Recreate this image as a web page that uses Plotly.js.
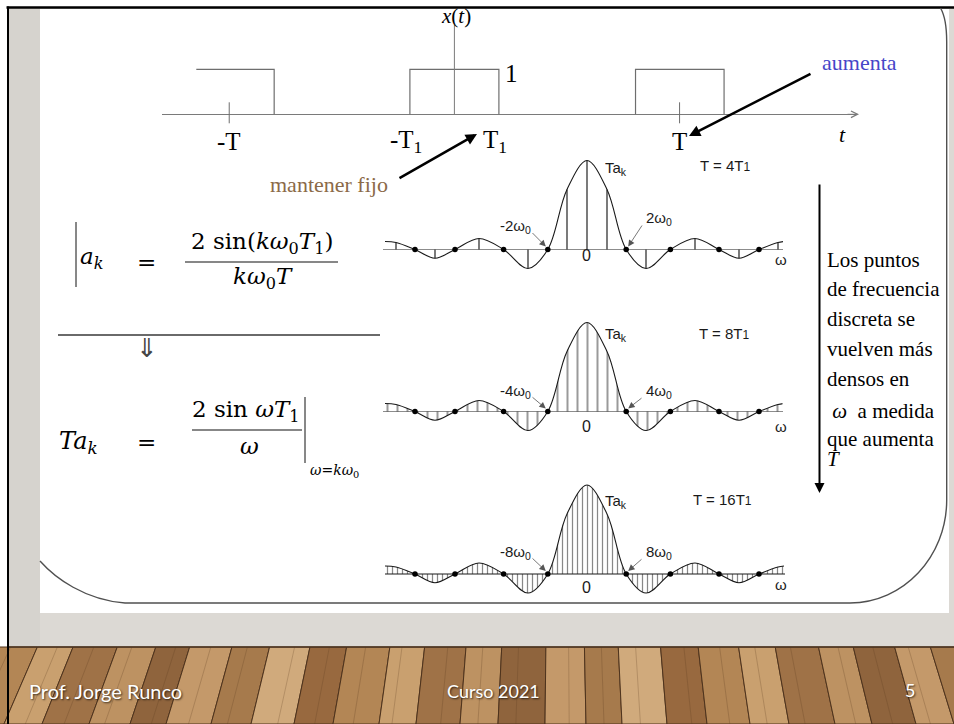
<!DOCTYPE html>
<html><head><meta charset="utf-8">
<script src="https://cdn.plot.ly/plotly-3.0.1.min.js"></script>
<style>html,body{margin:0;padding:0;background:#fff;overflow:hidden}#chart{width:954px;height:724px}</style>
</head><body><div id="chart"></div>
<script>
// ================= DATA =================
// periodic square wave x(t); t measured in units of T1
const pulseStart = [-5.8, -1.0, 4.07];
const pulseEnd = [-4.05, 1.0, 6.06];
const pulseRiseShown = [false, true, true];   // left pulse is cut by the slide
const pulseHeight = 1;
const periodT = 5.06;
const timeTicks = [-periodT, periodT];
const timeTickLabels = ['-T', 'T'];
const halfWidthTicks = [-1, 1];
const halfWidthLabels = ['-T<sub>1</sub>', 'T<sub>1</sub>'];

// envelope 2·sin(ωT1)/ω, normalised to its peak; ω in units of ω0 of the T = 4T1 case
const envW = [-10.1, -9.55, -8.6, -7.6, -6.6, -5.4, -4.17, -2.95, -1.96, -1.0, 0, 1.0, 1.96, 2.95, 4.17, 5.4, 6.6, 7.6, 8.6, 9.55, 9.85];
const envV = [0.09, 0.078, 0, -0.098, 0, 0.124, 0, -0.214, 0, 0.675, 1, 0.675, 0, -0.214, 0, 0.124, 0, -0.098, 0, 0.078, 0.09];
// samples T·a_k for T = 4T1 (non-zero ones)
const stemW4 = [-9.55, -7.6, -5.4, -2.95, -1.0, 0, 1.0, 2.95, 5.4, 7.6, 9.55];
const stemV4 = [0.078, -0.098, 0.12, -0.208, 0.675, 1, 0.675, -0.208, 0.12, -0.098, 0.078];
// zero crossings (dots)
const zeroW = [-8.6, -6.6, -4.17, -1.96, 1.96, 4.17, 6.6, 8.6];
const periodRatio = [4, 8, 16];   // T / T1
const firstZeroK = [2, 4, 8];     // k of first zero

// ================= LAYOUT HELPERS =================
const W = 954, H = 724;
const fx = p => p / W, fy = p => 1 - p / H;
const serif = 'Liberation Serif, Times New Roman, serif';
const mathF = 'DejaVu Serif, serif';
const sans = 'Liberation Sans, Arial, sans-serif';

const hidden = {showgrid:false, zeroline:false, showticklabels:false, ticks:'', showline:false, fixedrange:true};
const layout = {
  width: W, height: H, margin:{l:0,r:0,t:0,b:0},
  paper_bgcolor:'#ffffff', plot_bgcolor:'rgba(0,0,0,0)', showlegend:false,
  xaxis: Object.assign({domain:[0,1], range:[0,W], anchor:'y'}, hidden),
  yaxis: Object.assign({domain:[0,1], range:[H,0], anchor:'x'}, hidden),
};

// top diagram geometry (px)
const tOrigX = 454.4, tScale = 44.5, tAxisY = 114.3, tL = 161.5, tR = 857, ySc = 45, tTop = 20, tBot = 130;
layout.xaxis2 = Object.assign({}, hidden, {domain:[fx(tL), fx(tR)], range:[(tL-tOrigX)/tScale, (tR-tOrigX)/tScale], anchor:'y2'});
layout.yaxis2 = Object.assign({}, hidden, {domain:[fy(tBot), fy(tTop)], range:[(tAxisY-tBot)/ySc, (tAxisY-tTop)/ySc], anchor:'x2',
  zeroline:true, zerolinecolor:'#7a7a7a', zerolinewidth:1});

// spectra geometry
const cX = 587, xs = 20, ys = 89;
const bases = [249.5, 411.5, 574];
const lefts = [383, 382.5, 385];
const stemSolid = [0, 1.7, 1.25];   // px line width of the sampled stems
for (let i = 0; i < 3; i++) {
  const n = 3 + i, b = bases[i], l = lefts[i];
  layout['xaxis'+n] = Object.assign({}, hidden, {domain:[fx(l), fx(l+400)], range:[(l-cX)/xs, (l+400-cX)/xs], anchor:'y'+n});
  layout['yaxis'+n] = Object.assign({}, hidden, {domain:[fy(b+30), fy(b-100)], range:[-30/ys, 100/ys], anchor:'x'+n,
    zeroline:true, zerolinecolor:'#8c8c8c', zerolinewidth:1.2});
}

// ================= TRACES =================
const traces = [];
traces.push({x:[0], y:[0], xaxis:'x', yaxis:'y', mode:'markers', marker:{opacity:0}, hoverinfo:'skip'});

// pulse train
const pX = [], pY = [];
pulseStart.forEach((s, i) => {
  const e = pulseEnd[i];
  if (pulseRiseShown[i]) { pX.push(s, s); pY.push(0, pulseHeight); } else { pX.push(s); pY.push(pulseHeight); }
  pX.push(e, e, null); pY.push(pulseHeight, 0, null);
});
traces.push({x:pX, y:pY, xaxis:'x2', yaxis:'y2', mode:'lines', line:{color:'#6e6e6e', width:1.2}, hoverinfo:'skip'});
// vertical axis of x(t)
const vTop = (tAxisY - 25) / ySc;
traces.push({x:[0,0], y:[0, vTop], xaxis:'x2', yaxis:'y2', mode:'lines', line:{color:'#7a7a7a', width:1}, hoverinfo:'skip'});
// tick marks at ±T
const tkX = [], tkY = [];
timeTicks.forEach(t => { tkX.push(t, t, null); tkY.push(12/ySc, -9/ySc, null); });
traces.push({x:tkX, y:tkY, xaxis:'x2', yaxis:'y2', mode:'lines', line:{color:'#6e6e6e', width:1}, hoverinfo:'skip'});

// spectra
for (let i = 0; i < 3; i++) {
  const n = 3 + i;
  const w0px = (periodRatio[0] / periodRatio[i]) * xs;   // stem spacing in px
  if (i === 0) {
    const sX = [], sY = [];
    stemW4.forEach((w, j) => { sX.push(w, w, null); sY.push(0, stemV4[j], null); });
    traces.push({x:sX, y:sY, xaxis:'x'+n, yaxis:'y'+n, mode:'lines', line:{color:'#333', width:1.3}, hoverinfo:'skip'});
    traces.push({x:envW, y:envV, xaxis:'x'+n, yaxis:'y'+n, mode:'lines', line:{color:'#1a1a1a', width:1.1, shape:'spline', smoothing:1}, hoverinfo:'skip'});
  } else {
    traces.push({x:envW, y:envV, xaxis:'x'+n, yaxis:'y'+n, mode:'lines', fill:'tozeroy', fillcolor:'rgba(0,0,0,0)',
      fillpattern:{shape:'|', size:w0px, solidity: stemSolid[i] / w0px, fgcolor:'#111', bgcolor:'rgba(0,0,0,0)', fillmode:'overlay'},
      line:{color:'#1a1a1a', width:1.1, shape:'spline', smoothing:1}, hoverinfo:'skip'});
  }
  traces.push({x:zeroW, y:zeroW.map(() => 0), xaxis:'x'+n, yaxis:'y'+n, mode:'markers', cliponaxis:false,
    marker:{color:'#000', size:5.5}, hoverinfo:'skip'});
}

// ================= SHAPES (slide decoration) =================
const shapes = [];
const S = o => shapes.push(Object.assign({xref:'x', yref:'y', layer:'below'}, o));
S({type:'rect', x0:7, x1:960, y0:7, y1:730, fillcolor:'#dcd9d4', line:{width:0}});
S({type:'rect', x0:9, x1:40, y0:9, y1:647, fillcolor:'#d6d3ce', line:{width:0}});
S({type:'rect', x0:40, x1:949, y0:9, y1:613, fillcolor:'#ffffff', line:{width:0}});
// wooden floor
const woodTop = 647, woodBot = 724, vp = 560, fpersp = 0.94;
const plankCols = ['#b38655','#c9a06f','#9f7247','#bd9262','#8f643d','#c4996a','#a67a4c','#d0aa7c','#98693f'];
const plankW = [44, 38, 47, 41, 36, 45, 40, 43, 39, 46, 37];
let xb = -40, k = 0;
while (xb < 1000) {
  const wdt = plankW[k % plankW.length];
  const xb2 = xb + wdt;
  const xt = vp + (xb - vp) * fpersp, xt2 = vp + (xb2 - vp) * fpersp;
  S({type:'path', path:`M${xb},${woodBot} L${xt},${woodTop} L${xt2},${woodTop} L${xb2},${woodBot} Z`,
     fillcolor:plankCols[k % plankCols.length], line:{color:'#4e331d', width:1}});
  const g = 0.35 + 0.3 * ((k * 37) % 10) / 10;
  S({type:'line', x0:xb + wdt*g, y0:woodBot, x1:xt + (xt2-xt)*g, y1:woodTop, line:{color:'rgba(90,60,30,0.25)', width:1}});
  xb = xb2; k++;
}
S({type:'line', x0:9, x1:960, y0:woodTop, y1:woodTop, line:{color:'#4d3520', width:1.5}});
// borders
S({type:'line', x0:6.5, x1:960, y0:7.5, y1:7.5, line:{color:'#000', width:2.5}});
S({type:'line', x0:8, x1:8, y0:6.5, y1:730, line:{color:'#000', width:2}});
// rounded frame
S({type:'path', path:'M40,561 C55,578 85,600 125,603 L850,603 C903.4,603 946.7,556.9 946.7,500 L946.7,42 C946.7,25 944,14 940.5,8',
   line:{color:'#505050', width:1.4}});
// equation strokes
S({type:'line', x0:76, x1:76, y0:222, y1:287, line:{color:'#111', width:1}, layer:'above'});
S({type:'line', x0:185, x1:338, y0:262, y1:262, line:{color:'#111', width:1.2}, layer:'above'});
S({type:'line', x0:58, x1:380, y0:335, y1:335, line:{color:'#6a6a6a', width:1.8}, layer:'above'});
S({type:'line', x0:192, x1:302, y0:430, y1:430, line:{color:'#111', width:1.2}, layer:'above'});
S({type:'line', x0:305, x1:305, y0:397, y1:463, line:{color:'#111', width:1}, layer:'above'});

// ================= ANNOTATIONS =================
const ann = [];
const T = (x, y, text, size, o) => ann.push(Object.assign({xref:'x', yref:'y', x, y, text, showarrow:false,
  xanchor:'center', yanchor:'middle', font:{family:serif, size, color:'#000'}}, o || {}));
const A = (tx, ty, hx, hy, o) => ann.push(Object.assign({xref:'x', yref:'y', axref:'x', ayref:'y', x:hx, y:hy, ax:tx, ay:ty,
  text:'', showarrow:true, arrowhead:2, arrowsize:0.9, arrowwidth:2.5, arrowcolor:'#000'}, o || {}));
const toPx = t => tOrigX + t * tScale;

// top diagram labels
T(456, 16, '<i>x</i>(<i>t</i>)', 21);
timeTicks.forEach((t, i) => T(toPx(t), 141, timeTickLabels[i], 25));
halfWidthTicks.forEach((t, i) => T(toPx(t) - 4, 141, halfWidthLabels[i], 25));
T(toPx(1) + 13, 73, String(pulseHeight), 25);
T(842, 134, '<i>t</i>', 22);
T(268, 184, 'mantener fijo', 22, {xanchor:'left', font:{family:serif, size:22, color:'#8b6a48'}});
T(820, 62, 'aumenta', 22, {xanchor:'left', font:{family:serif, size:22, color:'#4646c8'}});
A(398, 179, 477, 134);
A(812, 73, 689, 136);
// time-axis arrowhead
A(846, tAxisY, tR + 2, tAxisY, {arrowhead:5, arrowwidth:1, arrowsize:1.3, arrowcolor:'#7a7a7a'});

// spectra labels
const lab = [
  {tak:-81.5, tt:-84.5, ttx:698, kl:-23, kr:-31.5, z:6, om:9.5},
  {tak:-77.5, tt:-78, ttx:697, kl:-20.5, kr:-20.5, z:14.5, om:14.5},
  {tak:-73, tt:-75, ttx:691, kl:-22, kr:-22, z:13, om:10},
];
for (let i = 0; i < 3; i++) {
  const b = bases[i], L = lab[i];
  const sf = (sz, c) => ({family:sans, size:sz, color:c || '#1a1a1a'});
  T(603, b + L.tak, 'Ta<sub>k</sub>', 15, {xanchor:'left', font:sf(15)});
  T(L.ttx, b + L.tt, 'T = ' + periodRatio[i] + 'T<span style="font-size:12px">1</span>', 15, {xanchor:'left', font:sf(15)});
  T(533, b + L.kl, '-' + firstZeroK[i] + 'ω<sub>0</sub>', 15, {xanchor:'right', font:sf(15)});
  T(644, b + L.kr, firstZeroK[i] + 'ω<sub>0</sub>', 15, {xanchor:'left', font:sf(15)});
  T(586.5, b + L.z, '0', 16, {font:sf(16)});
  T(781, b + L.om, 'ω', 15, {font:sf(15)});
  const zl = cX + zeroW[3] * xs, zr = cX + zeroW[4] * xs;
  A(531, b + L.kl + 5, zl - 2, b - 3, {arrowhead:2, arrowwidth:0.8, arrowsize:1.6, arrowcolor:'#555'});
  A(643, b + L.kr + 6, zr + 2, b - 3, {arrowhead:2, arrowwidth:0.8, arrowsize:1.6, arrowcolor:'#555'});
}

// equations
const mf = sz => ({family:mathF, size:sz, color:'#000'});
T(78, 258, '<i>a</i><sub><i>k</i></sub>', 23, {xanchor:'left', font:mf(23)});
T(146, 262, '=', 23, {font:mf(23)});
T(262, 243, '2 sin(<i>kω</i><sub>0</sub><i>T</i><sub>1</sub>)', 23, {font:mf(23)});
T(263, 278, '<i>kω</i><sub>0</sub><i>T</i>', 23, {font:mf(23)});
T(147, 348, '⇓', 26, {font:{family:'DejaVu Sans', size:26, color:'#444'}});
T(57, 442, '<i>Ta</i><sub><i>k</i></sub>', 24, {xanchor:'left', font:mf(24)});
T(146, 442, '=', 23, {font:mf(23)});
T(246, 411, '2 sin <i>ωT</i><sub>1</sub>', 23, {font:mf(23)});
T(249, 446, '<i>ω</i>', 23, {font:mf(23)});
T(308, 471, '<i>ω</i>=<i>kω</i><sub>0</sub>', 14, {xanchor:'left', font:mf(14)});

// right explanation
const rightLines = ['Los puntos', 'de frecuencia', 'discreta se', 'vuelven más', 'densos en', '&nbsp;<i>ω</i>&nbsp; a medida', 'que aumenta', '<i>T</i>'];
const rightY = [260, 289, 319, 349, 379, 411, 439, 459];
rightLines.forEach((s, i) => T(825, rightY[i], s, 21, {xanchor:'left'}));
A(819.5, 183, 819.5, 493, {arrowwidth:2, arrowsize:1});

// footer
const ff = sz => ({family:'Lato, Open Sans, sans-serif', size:sz, color:'#ffffff', shadow:'1px 1px 2px rgba(0,0,0,0.7)'});
T(27, 691, 'Prof. Jorge Runco', 20, {xanchor:'left', font:ff(20)});
T(493, 691, 'Curso 2021', 18, {font:ff(18)});
T(910, 690, '5', 18, {font:ff(18)});

layout.shapes = shapes;
layout.annotations = ann;
Plotly.newPlot('chart', traces, layout, {staticPlot:true, displayModeBar:false});
</script></body></html>
